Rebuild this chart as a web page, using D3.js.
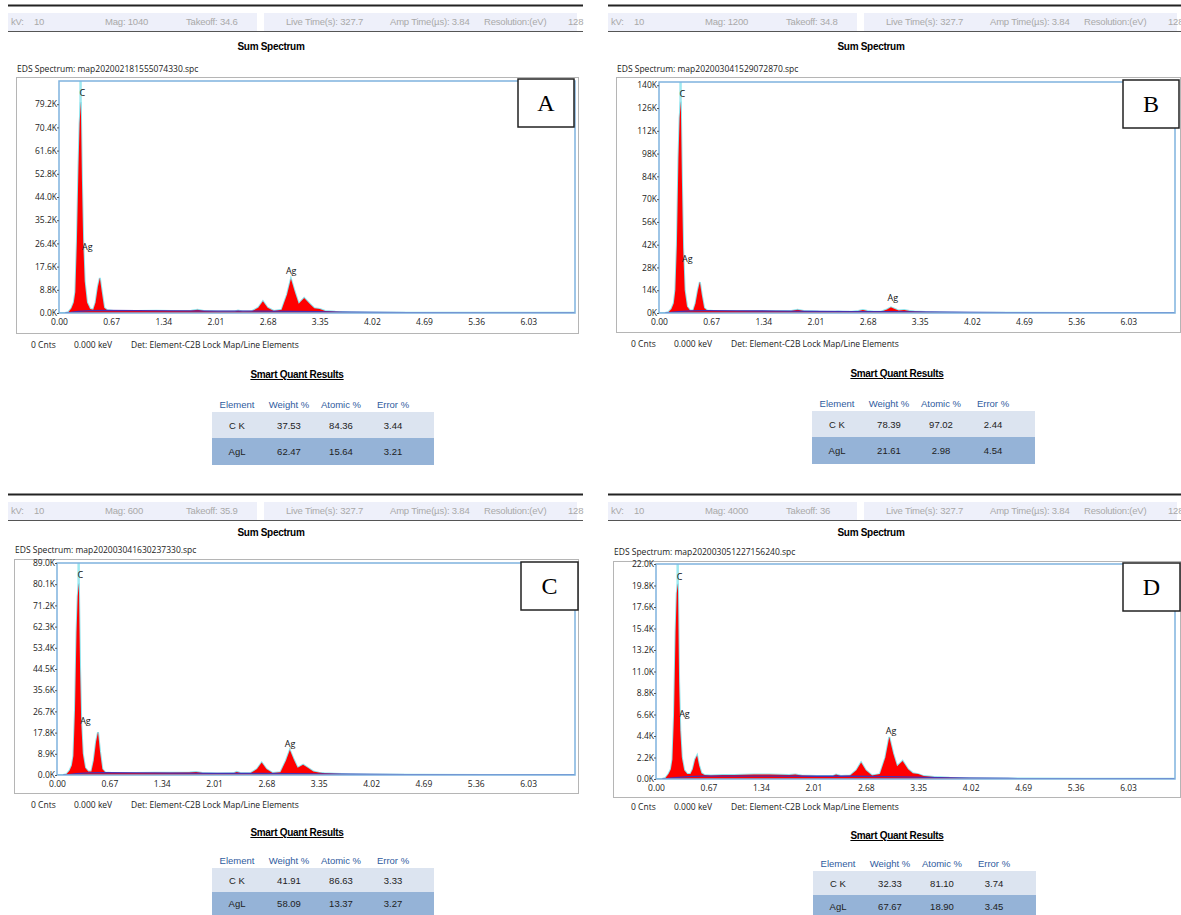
<!DOCTYPE html>
<html>
<head>
<meta charset="utf-8">
<script src="https://cdn.jsdelivr.net/npm/d3@7"></script>
<style>
body { margin: 0; background: #fff; }
svg { display: block; }
</style>
</head>
<body>
<script>
var width = 1181,
    height = 915;

// energy grid (keV) shared by the four spectra
var energies = [0.00, 0.08, 0.12, 0.16, 0.19, 0.21, 0.23, 0.25, 0.265, 0.28, 0.295, 0.31, 0.33, 0.36, 0.40,
    0.44, 0.47, 0.50, 0.525, 0.55, 0.58, 0.62, 0.70, 0.85, 1.00, 1.25, 1.45, 1.70, 1.78, 1.86, 2.05,
    2.26, 2.30, 2.36, 2.48, 2.56, 2.62, 2.68, 2.76, 2.86, 2.93, 2.98, 3.03, 3.08, 3.15, 3.22, 3.28,
    3.35, 3.42, 3.55, 3.75, 4.00, 4.50, 5.50, 6.65];

// counts in K
var countsA = [0, 0, 0.3, 1.8, 4, 8, 27, 55, 72, 80, 50, 28, 12, 4, 1.5,
    1.2, 4, 10, 13.3, 8, 2, 1.0, 0.8, 0.8, 0.8, 0.9, 0.8, 0.9, 1.2, 0.8, 0.6,
    0.6, 0.9, 0.6, 0.7, 2.0, 4.5, 2.0, 0.8, 1.2, 7, 13, 8, 3.5, 5.7, 3.5, 1.8,
    1.5, 0.8, 0.5, 0.3, 0.2, 0.1, 0.05, 0.05];
var countsB = [0, 0, 0.5, 2.5, 6, 14, 42, 95, 120, 130, 80, 40, 14, 4, 1.5,
    1.5, 6, 14, 19, 11, 3, 1.5, 1.2, 1.2, 1.2, 1.3, 1.2, 1.3, 2, 1.2, 0.9,
    0.8, 0.9, 0.8, 0.8, 1.2, 1.8, 1.2, 0.8, 0.9, 2.2, 3.5, 2.5, 1.5, 1.8, 1.3, 0.9,
    0.8, 0.6, 0.5, 0.3, 0.2, 0.1, 0.05, 0.05];
var countsC = [0, 0, 0.3, 1.8, 4, 8, 27, 60, 75, 80.5, 45, 22, 9, 3, 1.5,
    1.5, 6, 14, 18, 10, 2.5, 1.0, 0.8, 0.8, 0.8, 0.9, 0.9, 1.0, 1.3, 0.8, 0.6,
    0.7, 1.3, 0.7, 0.8, 2.5, 5.2, 2.5, 0.8, 1.2, 6, 10.5, 6.5, 3.0, 4.3, 2.8, 1.5,
    1.0, 0.7, 0.5, 0.3, 0.2, 0.1, 0.05, 0.05];
var countsD = [0, 0, 0.1, 0.5, 1.0, 2.0, 6.5, 15, 19, 20, 10, 5, 2.2, 0.9, 0.5,
    0.5, 1.0, 2.0, 2.4, 1.4, 0.6, 0.4, 0.35, 0.4, 0.4, 0.45, 0.45, 0.4, 0.45, 0.35, 0.3,
    0.3, 0.45, 0.3, 0.35, 0.9, 1.7, 0.9, 0.35, 0.5, 2.2, 4.3, 2.6, 1.3, 1.85, 1.0, 0.6,
    0.5, 0.3, 0.2, 0.12, 0.08, 0.05, 0.03, 0.03];

// background (blue line)
var bgEnergies = [0.08, 0.15, 0.25, 0.40, 0.60, 1.00, 1.50, 2.00, 2.50, 3.00, 3.30, 3.60, 4.00, 4.50, 5.50, 6.65];
var bgA = [0, 0.2, 0.6, 0.9, 1.0, 0.9, 0.8, 0.7, 0.7, 0.6, 0.5, 0.35, 0.2, 0.12, 0.06, 0.05];
var bgB = [0, 0.3, 0.9, 1.3, 1.4, 1.3, 1.2, 1.0, 0.9, 0.8, 0.7, 0.5, 0.3, 0.15, 0.08, 0.05];
var bgC = [0, 0.2, 0.6, 0.9, 1.0, 0.9, 0.8, 0.7, 0.7, 0.6, 0.5, 0.35, 0.2, 0.12, 0.06, 0.05];
var bgD = [0, 0.05, 0.15, 0.25, 0.3, 0.3, 0.3, 0.28, 0.28, 0.25, 0.2, 0.15, 0.08, 0.05, 0.03, 0.03];

var xTickValues = [0.00, 0.67, 1.34, 2.01, 2.68, 3.35, 4.02, 4.69, 5.36, 6.03];
var yTicksA = [0, 8.8, 17.6, 26.4, 35.2, 44.0, 52.8, 61.6, 70.4, 79.2];
var yTicksB = [0, 14, 28, 42, 56, 70, 84, 98, 112, 126, 140];
var yTicksC = [0, 8.9, 17.8, 26.7, 35.6, 44.5, 53.4, 62.3, 71.2, 80.1, 89.0];
var yTicksD = [0, 2.2, 4.4, 6.6, 8.8, 11.0, 13.2, 15.4, 17.6, 19.8, 22.0];

var magValues = ["1040", "1200", "600", "4000"];
var takeoffValues = ["34.6", "34.8", "35.9", "36"];
var fileNames = ["map202002181555074330.spc", "map202003041529072870.spc",
    "map202003041630237330.spc", "map202003051227156240.spc"];
var panelLetters = ["A", "B", "C", "D"];

// peak labels: [element, keV, K counts]
var peakLabelsA = [["C", 0.30, 84], ["Ag", 0.36, 25.5], ["Ag", 2.98, 16.4]];
var peakLabelsB = [["C", 0.30, 135], ["Ag", 0.36, 34], ["Ag", 3.00, 9.8]];
var peakLabelsC = [["C", 0.30, 84.4], ["Ag", 0.36, 23], ["Ag", 2.98, 13.4]];
var peakLabelsD = [["C", 0.30, 20.8], ["Ag", 0.36, 6.75], ["Ag", 3.00, 5.0]];

var tableColumns = ["Element", "Weight %", "Atomic %", "Error %"];
var tableElements = ["C K", "AgL"];
var weightA = ["37.53", "62.47"], atomicA = ["84.36", "15.64"], errorA = ["3.44", "3.21"];
var weightB = ["78.39", "21.61"], atomicB = ["97.02", "2.98"], errorB = ["2.44", "4.54"];
var weightC = ["41.91", "58.09"], atomicC = ["86.63", "13.37"], errorC = ["3.33", "3.27"];
var weightD = ["32.33", "67.67"], atomicD = ["81.10", "18.90"], errorD = ["3.74", "3.45"];

var cEnergy = 0.277;

// layout of each panel
var panels = [
    { ox: 0, top: 0, plot: [59, 81, 575, 313], frame: [16, 77, 578, 333], yMax: 88, yTicks: yTicksA, fmt: ".1f",
      counts: countsA, bg: bgA, labels: peakLabelsA, box: [518, 79, 574, 127],
      sumY: 46, edsY: 69, infoY: 345, smartY: 374, table: [212, 434, 404, 412, 438, 465],
      weight: weightA, atomic: atomicA, error: errorA },
    { ox: 600, top: 0, plot: [659, 82, 1175, 313], frame: [616, 77, 1180, 332], yMax: 142, yTicks: yTicksB, fmt: ".0f",
      counts: countsB, bg: bgB, labels: peakLabelsB, box: [1123, 80, 1179, 128],
      sumY: 46, edsY: 69, infoY: 344, smartY: 373, table: [812, 1035, 403, 411, 437, 464],
      weight: weightB, atomic: atomicB, error: errorB },
    { ox: 0, top: 489, plot: [57, 563, 575, 775], frame: [14, 559, 578, 793], yMax: 89, yTicks: yTicksC, fmt: ".1f",
      counts: countsC, bg: bgC, labels: peakLabelsC, box: [521, 562, 578, 610],
      sumY: 532, edsY: 550, infoY: 805, smartY: 832, table: [212, 434, 860, 868, 892, 915],
      weight: weightC, atomic: atomicC, error: errorC },
    { ox: 600, top: 489, plot: [656, 564, 1175, 779], frame: [613, 561, 1180, 797], yMax: 22, yTicks: yTicksD, fmt: ".1f",
      counts: countsD, bg: bgD, labels: peakLabelsD, box: [1123, 563, 1180, 611],
      sumY: 532, edsY: 552, infoY: 807, smartY: 835, table: [813, 1036, 863, 871, 895, 918],
      weight: weightD, atomic: atomicD, error: errorD }
];

var svg = d3.select("body").append("svg")
    .attr("width", width)
    .attr("height", height);

var uiFont = "'Open Sans', 'DejaVu Sans', sans-serif",
    arialFont = "'Liberation Sans', Arial, sans-serif",
    narrowFont = "'Liberation Sans Narrow', 'Liberation Sans', Arial, sans-serif";

function drawHeader(g, p, i) {
    var y = p.top;
    g.append("line")
        .attr("x1", p.ox + 8).attr("x2", Math.min(p.ox + 583, width))
        .attr("y1", y + 5.5).attr("y2", y + 5.5)
        .attr("stroke", "#222").attr("stroke-width", 2);

    g.append("rect").attr("x", p.ox + 8).attr("y", y + 13).attr("width", 249).attr("height", 18).attr("fill", "#eef0fa");
    g.append("rect").attr("x", p.ox + 264).attr("y", y + 13).attr("width", 313).attr("height", 18).attr("fill", "#eef0fa");
    g.append("line")
        .attr("x1", p.ox + 8).attr("x2", Math.min(p.ox + 583, width))
        .attr("y1", y + 31.5).attr("y2", y + 31.5)
        .attr("stroke", "#555").attr("stroke-width", 1);

    var items = [["kV:", 11], ["10", 34], ["Mag: " + magValues[i], 105], ["Takeoff: " + takeoffValues[i], 186],
        ["Live Time(s): 327.7", 286], ["Amp Time(\u00b5s): 3.84", 390], ["Resolution:(eV)", 484], ["128", 568]];
    g.selectAll(null).data(items).enter().append("text")
        .attr("x", function(d) { return p.ox + d[1]; })
        .attr("y", y + 25)
        .attr("font-family", arialFont)
        .attr("font-size", 9.5)
        .attr("letter-spacing", -0.2)
        .attr("fill", "#a9a9a9")
        .text(function(d) { return d[0]; });

    g.append("text")
        .attr("x", p.ox + 271).attr("y", p.sumY + 4)
        .attr("text-anchor", "middle")
        .attr("font-family", narrowFont).attr("font-weight", "bold").attr("font-size", 10)
        .attr("letter-spacing", -0.3)
        .text("Sum Spectrum");

    g.append("text")
        .attr("x", p.frame[0] + 1).attr("y", p.edsY + 3)
        .attr("font-family", uiFont).attr("font-size", 8.5).attr("fill", "#222")
        .text("EDS Spectrum: " + fileNames[i]);
}

function drawSpectrum(g, p, i) {
    var x = d3.scaleLinear().domain([0, 6.63]).range([p.plot[0], p.plot[2]]),
        y = d3.scaleLinear().domain([0, p.yMax]).range([p.plot[3], p.plot[1]]);

    // outer frame
    g.append("rect")
        .attr("x", p.frame[0] + 0.5).attr("y", p.frame[1] + 0.5)
        .attr("width", p.frame[2] - p.frame[0]).attr("height", p.frame[3] - p.frame[1])
        .attr("fill", "#fff").attr("stroke", "#b5b5b5");

    var clipId = "clip" + i;
    g.append("clipPath").attr("id", clipId).append("rect")
        .attr("x", p.plot[0]).attr("y", p.plot[1])
        .attr("width", p.plot[2] - p.plot[0]).attr("height", p.plot[3] - p.plot[1]);

    var gPlot = g.append("g").attr("clip-path", "url(#" + clipId + ")");

    var pts = energies.map(function(e, k) { return [e, p.counts[k]]; });
    var bgPts = bgEnergies.map(function(e, k) { return [e, p.bg[k]]; });

    // C marker line
    gPlot.append("line")
        .attr("x1", x(cEnergy)).attr("x2", x(cEnergy))
        .attr("y1", p.plot[1]).attr("y2", p.plot[3])
        .attr("stroke", "#9ee8f0").attr("stroke-width", 2.5);

    // fit outline
    gPlot.append("path")
        .datum(pts)
        .attr("fill", "none")
        .attr("stroke", "#8fe3ec")
        .attr("stroke-width", 2)
        .attr("d", d3.line().x(function(d) { return x(d[0]); }).y(function(d) { return y(d[1]); }));

    gPlot.append("path")
        .datum(pts)
        .attr("fill", "#ff0000")
        .attr("d", d3.area().x(function(d) { return x(d[0]); }).y0(y(0)).y1(function(d) { return y(d[1]); }));

    gPlot.append("path")
        .datum(bgPts)
        .attr("fill", "none")
        .attr("stroke", "#4a2fb0")
        .attr("stroke-width", 1.3)
        .attr("d", d3.line().x(function(d) { return x(d[0]); }).y(function(d) { return y(d[1]); }));

    // plot border
    g.append("rect")
        .attr("x", p.plot[0]).attr("y", p.plot[1])
        .attr("width", p.plot[2] - p.plot[0]).attr("height", p.plot[3] - p.plot[1])
        .attr("fill", "none").attr("stroke", "#7fb3de").attr("stroke-width", 1.5);

    // axes
    var fmt = d3.format(p.fmt);
    var yAxis = g.append("g")
        .attr("transform", "translate(" + p.plot[0] + ",0)")
        .call(d3.axisLeft(y).tickValues(p.yTicks).tickSize(2).tickPadding(0)
            .tickFormat(function(d) { return fmt(d) + "K"; }));
    yAxis.select(".domain").remove();
    yAxis.selectAll("line").attr("stroke", "#555");
    yAxis.selectAll("text").attr("font-family", uiFont).attr("font-size", 8.5).attr("fill", "#222");

    var xAxis = g.append("g")
        .attr("transform", "translate(0," + p.plot[3] + ")")
        .call(d3.axisBottom(x).tickValues(xTickValues).tickSize(0).tickPadding(6)
            .tickFormat(d3.format(".2f")));
    xAxis.select(".domain").remove();
    xAxis.selectAll("text").attr("font-family", uiFont).attr("font-size", 8.5).attr("fill", "#222");

    // peak labels
    g.selectAll(null).data(p.labels).enter().append("text")
        .attr("x", function(d) { return x(d[1]); })
        .attr("y", function(d) { return y(d[2]) + 4; })
        .attr("text-anchor", function(d) { return d[0] === "C" ? "middle" : "start"; })
        .attr("dx", function(d) { return d[0] === "C" ? 0 : -5; })
        .attr("font-family", uiFont).attr("font-size", 9).attr("fill", "#111")
        .text(function(d) { return d[0]; });

    // letter box
    g.append("rect")
        .attr("x", p.box[0]).attr("y", p.box[1])
        .attr("width", p.box[2] - p.box[0]).attr("height", p.box[3] - p.box[1])
        .attr("fill", "#fff").attr("stroke", "#222").attr("stroke-width", 1.5);
    g.append("text")
        .attr("x", (p.box[0] + p.box[2]) / 2).attr("y", (p.box[1] + p.box[3]) / 2 + 8)
        .attr("text-anchor", "middle")
        .attr("font-family", "'Liberation Serif', 'Times New Roman', serif").attr("font-size", 24)
        .text(panelLetters[i]);

    // status line
    var info = [["0 Cnts", 31], ["0.000 keV", 74], ["Det: Element-C2B Lock Map/Line Elements", 131]];
    g.selectAll(null).data(info).enter().append("text")
        .attr("x", function(d) { return p.ox + d[1]; })
        .attr("y", p.infoY + 3)
        .attr("font-family", uiFont).attr("font-size", 8.5).attr("fill", "#222")
        .text(function(d) { return d[0]; });
}

function drawTable(g, p) {
    var t = p.table,
        left = t[0], right = t[1];

    g.append("text")
        .attr("x", p.ox + 297).attr("y", p.smartY + 4)
        .attr("text-anchor", "middle")
        .attr("font-family", narrowFont).attr("font-weight", "bold").attr("font-size", 10)
        .attr("letter-spacing", -0.3)
        .attr("text-decoration", "underline")
        .text("Smart Quant Results");

    var colX = d3.scalePoint().domain(tableColumns).range([left + 25, left + 181]);

    g.selectAll(null).data(tableColumns).enter().append("text")
        .attr("x", function(d) { return colX(d); })
        .attr("y", t[2] + 3.5)
        .attr("text-anchor", "middle")
        .attr("font-family", arialFont).attr("font-size", 9.5).attr("fill", "#2f5b9e")
        .text(function(d) { return d; });

    var rowTops = [t[3], t[4]], rowBottoms = [t[4], t[5]], rowFills = ["#dce4f0", "#95b3d7"];
    tableElements.forEach(function(el, r) {
        g.append("rect")
            .attr("x", left).attr("y", rowTops[r])
            .attr("width", right - left).attr("height", rowBottoms[r] - rowTops[r])
            .attr("fill", rowFills[r]);
        var cells = [el, p.weight[r], p.atomic[r], p.error[r]];
        g.selectAll(null).data(cells).enter().append("text")
            .attr("x", function(d, k) { return colX(tableColumns[k]); })
            .attr("y", (rowTops[r] + rowBottoms[r]) / 2 + 3.5)
            .attr("text-anchor", "middle")
            .attr("font-family", arialFont).attr("font-size", 9.5).attr("fill", "#222")
            .text(function(d) { return d; });
    });
}

panels.forEach(function(p, i) {
    var g = svg.append("g");
    drawHeader(g, p, i);
    drawSpectrum(g, p, i);
    drawTable(g, p);
});
</script>
</body>
</html>
